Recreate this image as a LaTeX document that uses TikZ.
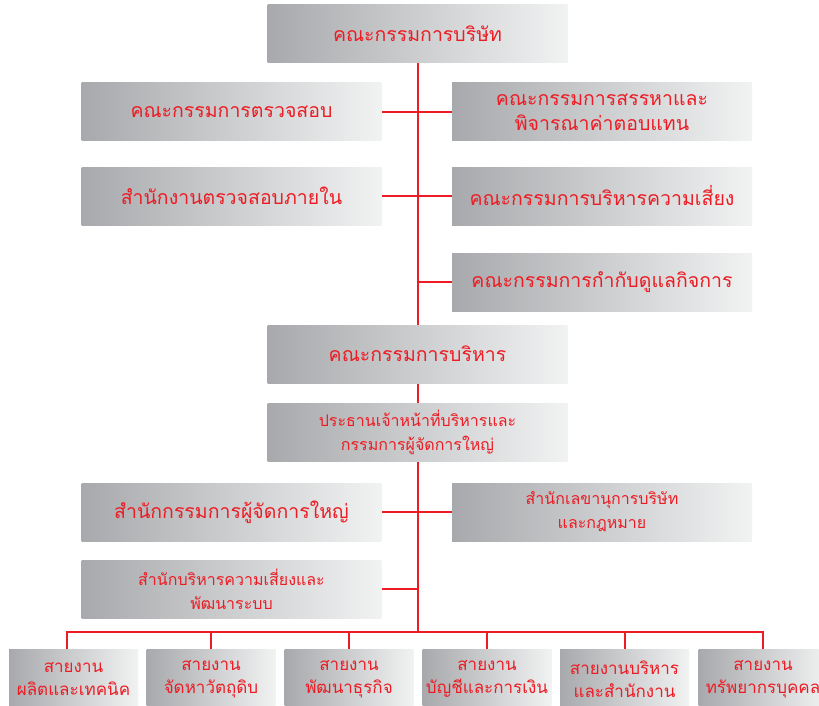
\documentclass[tikz,border=0pt]{standalone}
\usepackage{fontspec}
\newfontfamily\thaifont[Script=Thai]{Loma}
\usetikzlibrary{backgrounds}
\definecolor{chartred}{HTML}{ED1C24}
\definecolor{boxdark}{HTML}{A7A9AC}
\definecolor{boxlight}{HTML}{F1F2F2}
\tikzset{
  orgbox/.style={rectangle, left color=boxdark, right color=boxlight, text=chartred,
    align=center, inner sep=0pt, minimum width=300pt, minimum height=58pt,
    font={\thaifont\fontsize{19.5}{25}\selectfont}},
  smallbox/.style={orgbox, font={\thaifont\fontsize{16}{24}\selectfont}},
  unitbox/.style={orgbox, minimum width=129pt, minimum height=60pt,
    font={\thaifont\fontsize{17}{23}\selectfont}},
  link/.style={draw=chartred, line width=2pt}
}
\begin{document}
\begin{tikzpicture}[x=1pt, y=-1pt]
        \clip (0,0) rectangle (819,706);
        \useasboundingbox (0,0) rectangle (819,706);

        % Board level
        \node[orgbox] (board) at (417.5,34) {คณะกรรมการบริษัท};

        % Committees
        \node[orgbox] (audit) at (231.5,112) {คณะกรรมการตรวจสอบ};
        \node[orgbox] (nomination) at (602,112) {คณะกรรมการสรรหาและ\\พิจารณาค่าตอบแทน};
        \node[orgbox] (internal) at (231.5,196) {สำนักงานตรวจสอบภายใน};
        \node[orgbox] (risk) at (602,196) {คณะกรรมการบริหารความเสี่ยง};
        \node[orgbox] (governance) at (602,282) {คณะกรรมการกำกับดูแลกิจการ};

        % Management
        \node[orgbox] (exec) at (417.5,354) {คณะกรรมการบริหาร};
        \node[smallbox] (ceo) at (417.5,432) {ประธานเจ้าหน้าที่บริหารและ\\กรรมการผู้จัดการใหญ่};
        \node[orgbox] (mdoffice) at (231.5,512) {สำนักกรรมการผู้จัดการใหญ่};
        \node[smallbox] (secretary) at (602,512) {สำนักเลขานุการบริษัท\\และกฎหมาย};
        \node[smallbox] (riskoffice) at (231.5,589) {สำนักบริหารความเสี่ยงและ\\พัฒนาระบบ};

        % Business units
        \node[unitbox] (unit1) at (73.5,679) {สายงาน\\ผลิตและเทคนิค};
        \node[unitbox] (unit2) at (211,679) {สายงาน\\จัดหาวัตถุดิบ};
        \node[unitbox] (unit3) at (349,679) {สายงาน\\พัฒนาธุรกิจ};
        \node[unitbox] (unit4) at (487,679) {สายงาน\\บัญชีและการเงิน};
        \node[unitbox] (unit5) at (624.5,679) {สายงานบริหาร\\และสำนักงาน};
        \node[unitbox] (unit6) at (763,679) {สายงาน\\ทรัพยากรบุคคล};

        \coordinate (bus) at (board.south |- 0,632);
        \coordinate (drop1) at (67,649);

        % Connectors behind the boxes
        \begin{pgfonlayer}{background}
        \draw[link] (board.south) -- (bus);
        \draw[link] (audit.east) -- (nomination.west);
        \draw[link] (internal.east) -- (risk.west);
        \draw[link] (board.south |- governance.west) -- (governance.west);
        \draw[link] (mdoffice.east) -- (secretary.west);
        \draw[link] (riskoffice.east) -- (board.south |- riskoffice.east);
        \draw[link] (drop1) |- (bus);
        \foreach \u in {2,...,6}
          \draw[link] (unit\u.north) |- (bus);
        \end{pgfonlayer}
    \end{tikzpicture}
\end{document}
